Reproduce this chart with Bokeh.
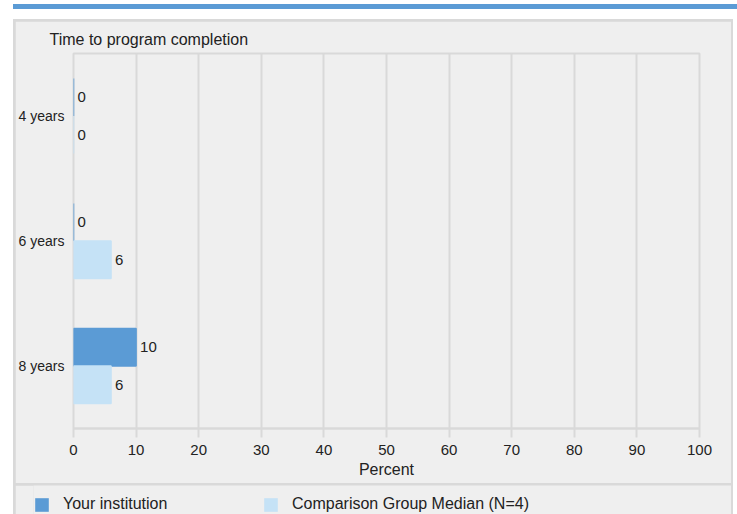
from bokeh.plotting import figure
from bokeh.models import (FactorRange, Range1d, FixedTicker, Div, Legend,
                          LegendItem, ColumnDataSource)
from bokeh.transform import dodge
from bokeh.layouts import column
from bokeh.core.properties import value
from bokeh.embed import file_html
from bokeh.resources import INLINE

# ---- data ----
categories = ["4 years", "6 years", "8 years"]
institution = [0, 0, 10]
comparison = [0, 6, 6]
series_names = ["Your institution", "Comparison Group Median (N=4)"]
x_ticks = [0, 10, 20, 30, 40, 50, 60, 70, 80, 90, 100]
chart_title = "Time to program completion"
x_label = "Percent"

# ---- style ----
FONT = "Liberation Sans"
DARK = "#5b9bd5"
LIGHT = "#c5e2f6"
BG = "#efefef"
GRID = "#d9d9d9"
TEXT = "#222222"

src = ColumnDataSource(dict(
    cat=categories,
    inst=institution,
    comp=comparison,
    inst_lbl=[str(v) for v in institution],
    comp_lbl=[str(v) for v in comparison],
))

yr = FactorRange(factors=categories[::-1])
xr = Range1d(0, 100)

main = figure(width=716, height=462, x_range=xr, y_range=yr,
              output_backend="svg", toolbar_location=None,
              min_border_left=58, min_border_right=32,
              min_border_top=32, min_border_bottom=55,
              background_fill_color=BG, border_fill_color=BG,
              outline_line_color=GRID, outline_line_width=2,
              title=chart_title)
main.frame_align = False

main.title.text_font = FONT
main.title.text_font_size = "16px"
main.title.text_font_style = "normal"
main.title.text_color = TEXT
main.title.offset = -24
main.title.standoff = 12

main.hbar(y=dodge("cat", 0.15, range=yr), left=0, right="inst", height=0.3,
          source=src, fill_color=DARK, line_color=DARK, line_width=1.5)
main.hbar(y=dodge("cat", -0.15, range=yr), left=0, right="comp", height=0.3,
          source=src, fill_color=LIGHT, line_color=LIGHT, line_width=1.5)

main.text(x="inst", y=dodge("cat", 0.15, range=yr), text="inst_lbl", source=src,
          x_offset=4, text_baseline="middle", text_align="left",
          text_font=value(FONT), text_font_size="15px", text_color=TEXT)
main.text(x="comp", y=dodge("cat", -0.15, range=yr), text="comp_lbl", source=src,
          x_offset=4, text_baseline="middle", text_align="left",
          text_font=value(FONT), text_font_size="15px", text_color=TEXT)

xa = main.xaxis[0]
xa.ticker = FixedTicker(ticks=x_ticks)
xa.axis_label = x_label
xa.axis_label_text_font = FONT
xa.axis_label_text_font_size = "16px"
xa.axis_label_text_font_style = "normal"
xa.axis_label_text_color = TEXT
xa.axis_label_standoff = 3
xa.major_label_text_font = FONT
xa.major_label_text_font_size = "15px"
xa.major_label_text_color = TEXT
xa.major_label_standoff = 7
xa.major_tick_out = 9
xa.major_tick_in = 0
xa.minor_tick_out = 0
xa.minor_tick_in = 0
xa.axis_line_color = GRID
xa.axis_line_width = 2
xa.major_tick_line_color = GRID
xa.major_tick_line_width = 2

ya = main.yaxis[0]
ya.axis_line_color = None
ya.major_tick_line_color = None
ya.minor_tick_line_color = None
ya.major_tick_out = 0
ya.major_tick_in = 0
ya.minor_tick_out = 0
ya.minor_tick_in = 0
ya.major_label_standoff = 9
ya.major_label_text_font = FONT
ya.major_label_text_font_size = "14px"
ya.major_label_text_color = TEXT

main.xgrid.grid_line_color = GRID
main.xgrid.grid_line_width = 2
main.ygrid.grid_line_color = None

# ---- legend strip ----
leg = figure(width=716, height=29, x_range=xr, y_range=yr,
             output_backend="svg", toolbar_location=None, title=None,
             min_border_left=18, min_border_right=0,
             min_border_top=0, min_border_bottom=0,
             x_axis_location=None, y_axis_location=None,
             background_fill_color=BG, border_fill_color=BG,
             outline_line_color=None)
leg.frame_align = False
leg.grid.visible = False
r1 = leg.hbar(y="cat", left=0, right="inst", height=0.3, source=src,
              fill_color=DARK, line_color=None, visible=False)
r2 = leg.hbar(y="cat", left=0, right="comp", height=0.3, source=src,
              fill_color=LIGHT, line_color=None, visible=False)
legend = Legend(items=[LegendItem(label=series_names[0], renderers=[r1]),
                       LegendItem(label=series_names[1], renderers=[r2])],
                orientation="horizontal", location=(0, 1),
                glyph_width=17, glyph_height=17, label_standoff=13,
                label_width=199, label_height=17, spacing=0, padding=0,
                margin=0, border_line_color=None, background_fill_alpha=0,
                label_text_font=FONT, label_text_font_size="16px",
                label_text_color=TEXT, click_policy="none")
leg.add_layout(legend)

band = Div(text="", width=724, height=5, margin=(4, 0, 0, 13),
           styles={"background-color": DARK})

panel = column(main, leg, spacing=2, margin=(10, 0, 0, 13),
               styles={"background-color": GRID, "padding": "2px 2px 0px 2px"})

root = column(band, panel)

open("out.html", "w").write(file_html(root, INLINE))
